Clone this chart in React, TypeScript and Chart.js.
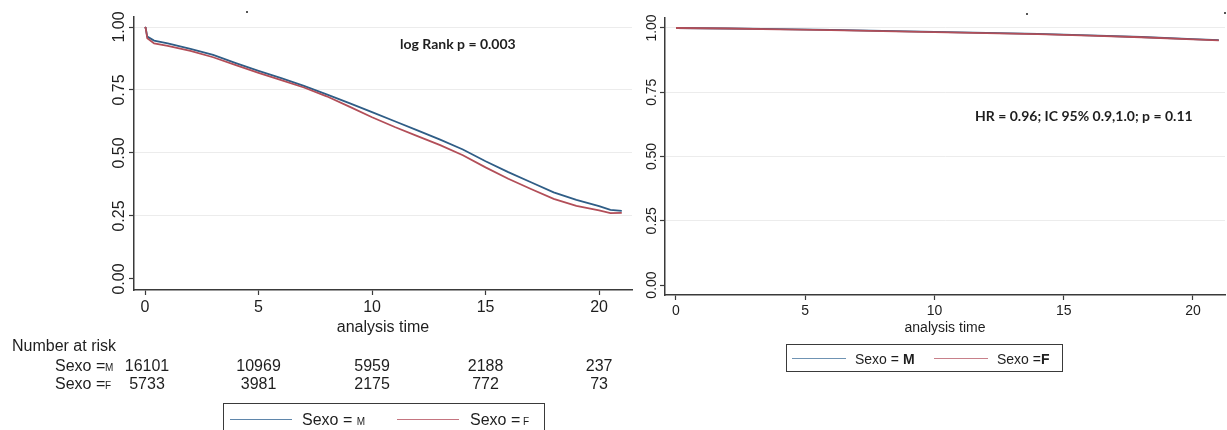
import React, { useEffect, useRef } from "react";
import { Chart, registerables } from "chart.js";

Chart.register(...registerables);

// ---------- DATA ----------
// Left panel: Kaplan-Meier survival by sex
const leftTimes = [0, 0.03, 0.1, 0.4, 1, 2, 3, 4, 5, 6, 7, 8, 9, 10, 11, 12, 13, 14, 15, 16, 17, 18, 19, 20, 20.5, 21];
const leftSurvM = [1.0, 0.995, 0.962, 0.946, 0.935, 0.913, 0.889, 0.857, 0.826, 0.797, 0.766, 0.733, 0.698, 0.662, 0.626, 0.59, 0.553, 0.514, 0.467, 0.424, 0.384, 0.344, 0.314, 0.289, 0.274, 0.27];
const leftSurvF = [1.0, 0.995, 0.955, 0.935, 0.925, 0.905, 0.88, 0.849, 0.818, 0.789, 0.76, 0.725, 0.684, 0.642, 0.603, 0.567, 0.531, 0.491, 0.443, 0.398, 0.357, 0.318, 0.29, 0.272, 0.261, 0.262];

// Right panel: adjusted survival by sex
const rightTimes = [0, 2, 4, 6, 8, 10, 12, 14, 16, 18, 20, 21];
const rightSurvM = [1.0, 0.998, 0.996, 0.993, 0.989, 0.985, 0.981, 0.977, 0.971, 0.965, 0.957, 0.953];
const rightSurvF = [1.0, 0.998, 0.995, 0.992, 0.988, 0.984, 0.98, 0.976, 0.97, 0.964, 0.956, 0.952];

// Axes ticks
const xTicks = [0, 5, 10, 15, 20];
const yTicks = [0, 0.25, 0.5, 0.75, 1.0];

// Number at risk table
const riskTimes = [0, 5, 10, 15, 20];
const riskM = [16101, 10969, 5959, 2188, 237];
const riskF = [5733, 3981, 2175, 772, 73];

// Labels
const seriesLabelM = "M";
const seriesLabelF = "F";
const xTitle = "analysis time";
const leftNote = "log Rank p = 0.003";
const rightNote = "HR = 0.96; IC 95% 0.9,1.0; p = 0.11";

// ---------- STYLE ----------
const BLUE = "#2f5d86";
const RED = "#b24e58";
const AXIS = "#3a3a3a";
const TEXT = "#1e1e1e";
const GRID = "#ececec";
const FONT = '"Liberation Sans", Arial, Helvetica, sans-serif';
const NOTE_FONT = "Lato, 'Open Sans', sans-serif";

function pts(t: number[], v: number[]) {
  return t.map((x, i) => ({ x, y: v[i] }));
}

type PanelOpts = {
  xMin: number;
  xMax: number;
  yMin: number;
  yMax: number;
  yWidth: number;
  xHeight: number;
  padTop: number;
  padRight: number;
  padBottom: number;
  fontSize: number;
  yPad: number;
  xPad: number;
  titlePad: number;
};

function makeConfig(t: number[], m: number[], f: number[], o: PanelOpts, plugins: any[] = []): any {
  return {
    type: "line",
    data: {
      datasets: [
        {
          label: "Sexo = " + seriesLabelM,
          data: pts(t, m),
          borderColor: BLUE,
          borderWidth: 1.8,
          pointRadius: 0,
          tension: 0,
          order: 1,
        },
        {
          label: "Sexo = " + seriesLabelF,
          data: pts(t, f),
          borderColor: RED,
          borderWidth: 1.8,
          pointRadius: 0,
          tension: 0,
          order: 0,
        },
      ],
    },
    options: {
      responsive: false,
      animation: false,
      devicePixelRatio: 1,
      layout: { padding: { top: o.padTop, right: o.padRight, bottom: o.padBottom, left: 0 } },
      plugins: { legend: { display: false }, tooltip: { enabled: false } },
      scales: {
        x: {
          type: "linear",
          min: o.xMin,
          max: o.xMax,
          afterBuildTicks: (s: any) => {
            s.ticks = xTicks.map((v) => ({ value: v }));
          },
          afterFit: (s: any) => {
            s.height = o.xHeight;
          },
          ticks: {
            autoSkip: false,
            maxRotation: 0,
            minRotation: 0,
            padding: o.xPad,
            color: TEXT,
            font: { family: FONT, size: o.fontSize },
            callback: (v: any) => String(v),
          },
          grid: { drawOnChartArea: false, drawTicks: true, tickLength: 5, tickColor: AXIS, tickWidth: 1.2 },
          border: { display: true, color: AXIS, width: 1.5 },
          title: {
            display: true,
            text: xTitle,
            color: TEXT,
            font: { family: FONT, size: o.fontSize },
            padding: { top: 0, bottom: o.titlePad },
          },
        },
        y: {
          type: "linear",
          min: o.yMin,
          max: o.yMax,
          afterBuildTicks: (s: any) => {
            s.ticks = yTicks.map((v) => ({ value: v }));
          },
          afterFit: (s: any) => {
            s.width = o.yWidth;
          },
          ticks: {
            minRotation: 90,
            maxRotation: 90,
            crossAlign: "center",
            padding: o.yPad,
            color: TEXT,
            font: { family: FONT, size: o.fontSize },
            callback: (v: any) => Number(v).toFixed(2),
          },
          grid: {
            drawTicks: true,
            tickLength: 5,
            tickColor: AXIS,
            tickWidth: 1.2,
            lineWidth: 1,
            color: (ctx: any) => (ctx.tick && ctx.tick.value === 0 ? "rgba(0,0,0,0)" : GRID),
          },
          border: { display: true, color: AXIS, width: 1.5 },
        },
      },
    },
    plugins,
  };
}

const riskTablePlugin = {
  id: "riskTable",
  afterDraw(chart: any) {
    const ctx = chart.ctx;
    const xs = chart.scales.x;
    ctx.save();
    ctx.fillStyle = TEXT;
    ctx.textBaseline = "middle";
    ctx.font = `16px ${FONT}`;
    ctx.textAlign = "left";
    ctx.fillText("Number at risk", 12, 347);
    const rows = [
      { lab: seriesLabelM, vals: riskM, y: 367 },
      { lab: seriesLabelF, vals: riskF, y: 385 },
    ];
    rows.forEach((r) => {
      ctx.font = `16px ${FONT}`;
      ctx.textAlign = "left";
      ctx.fillText("Sexo =", 55, r.y);
      ctx.font = `10px ${FONT}`;
      ctx.fillText(r.lab, 105, r.y + 1);
      ctx.font = `16px ${FONT}`;
      ctx.textAlign = "center";
      r.vals.forEach((v, i) => {
        const px = xs.getPixelForValue(riskTimes[i]);
        ctx.fillText(String(v), i === 0 ? px + 2 : px, r.y);
      });
    });
    ctx.restore();
  },
};

export default function App() {
  const leftRef = useRef<HTMLCanvasElement>(null);
  const rightRef = useRef<HTMLCanvasElement>(null);

  useEffect(() => {
    const left = new Chart(
      leftRef.current as HTMLCanvasElement,
      makeConfig(
        leftTimes,
        leftSurvM,
        leftSurvF,
        {
          xMin: -0.485,
          xMax: 21.45,
          yMin: -0.0437,
          yMax: 1.0397,
          yWidth: 134,
          xHeight: 50,
          padTop: 17,
          padRight: 8,
          padBottom: 90,
          fontSize: 16,
          yPad: -6,
          xPad: 3,
          titlePad: 3,
        },
        [riskTablePlugin]
      )
    );
    const right = new Chart(
      rightRef.current as HTMLCanvasElement,
      makeConfig(rightTimes, rightSurvM, rightSurvF, {
        xMin: -0.4255,
        xMax: 21.24,
        yMin: -0.0389,
        yMax: 1.0389,
        yWidth: 29,
        xHeight: 50,
        padTop: 18,
        padRight: 2,
        padBottom: 0,
        fontSize: 14,
        yPad: -6,
        xPad: 2.6,
        titlePad: 8.6,
      })
    );
    return () => {
      left.destroy();
      right.destroy();
    };
  }, []);

  const lineStyle = (color: string, left: number, width: number, top: number): React.CSSProperties => ({
    position: "absolute",
    left,
    top,
    width,
    height: 0,
    borderTop: `1.5px solid ${color}`,
  });

  const txt = (left: number, top: number, size: number, extra: React.CSSProperties = {}): React.CSSProperties => ({
    position: "absolute",
    left,
    top,
    fontFamily: FONT,
    fontSize: size,
    color: TEXT,
    whiteSpace: "nowrap",
    lineHeight: 1,
    ...extra,
  });

  const dot = (left: number, top: number): React.CSSProperties => ({
    position: "absolute",
    left,
    top,
    width: 2,
    height: 2,
    background: "#555",
  });

  return (
    <div
      style={{
        position: "absolute",
        left: 0,
        top: 0,
        width: 1227,
        height: 430,
        overflow: "hidden",
        background: "#fff",
      }}
    >
      <canvas ref={leftRef} width={640} height={430} style={{ position: "absolute", left: 0, top: 0, width: 640, height: 430 }} />
      <canvas ref={rightRef} width={591} height={345} style={{ position: "absolute", left: 636, top: 0, width: 591, height: 345 }} />

      {/* annotations */}
      <div style={txt(400, 37, 14, { fontFamily: NOTE_FONT, fontWeight: 700 })}>{leftNote}</div>
      <div style={txt(975, 109, 14, { fontFamily: NOTE_FONT, fontWeight: 700 })}>{rightNote}</div>

      {/* tiny marks at top */}
      <div style={dot(246, 11)} />
      <div style={dot(1026, 13)} />
      <div style={dot(1224, 12)} />

      {/* left legend */}
      <div
        style={{
          position: "absolute",
          left: 223,
          top: 403,
          width: 322,
          height: 32,
          border: `1.5px solid ${AXIS}`,
          boxSizing: "border-box",
        }}
      >
        <div style={lineStyle("#5f86ab", 6, 62, 15)} />
        <div style={txt(78, 8, 16)}>
          Sexo = <span style={{ fontSize: 10 }}>{seriesLabelM}</span>
        </div>
        <div style={lineStyle("#c57580", 173, 62, 15)} />
        <div style={txt(246, 8, 16)}>
          Sexo =<span style={{ fontSize: 10 }}> {seriesLabelF}</span>
        </div>
      </div>

      {/* right legend */}
      <div
        style={{
          position: "absolute",
          left: 786,
          top: 344,
          width: 277,
          height: 28,
          border: `1.5px solid ${AXIS}`,
          boxSizing: "border-box",
        }}
      >
        <div style={lineStyle("#6f93b3", 5, 54, 13)} />
        <div style={txt(68, 7, 14)}>
          Sexo = <b>{seriesLabelM}</b>
        </div>
        <div style={lineStyle("#c8808a", 147, 54, 13)} />
        <div style={txt(210, 7, 14)}>
          Sexo =<b>{seriesLabelF}</b>
        </div>
      </div>
    </div>
  );
}
